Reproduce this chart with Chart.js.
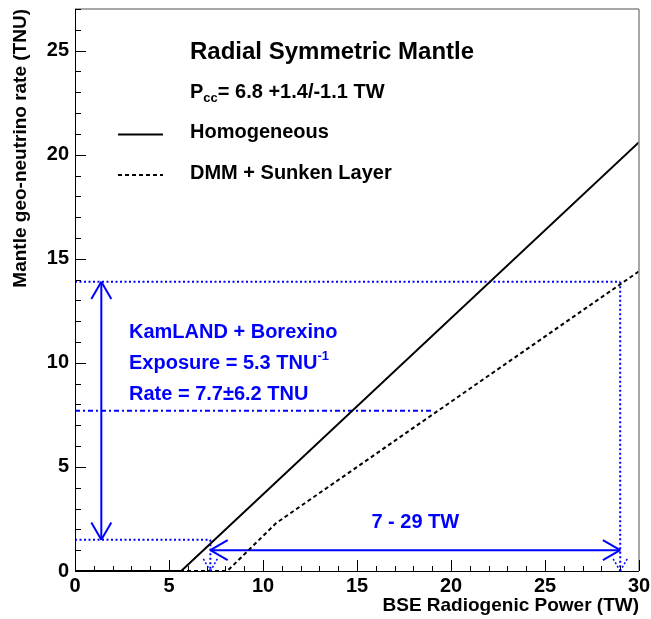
<!DOCTYPE html>
<html>
<head>
<meta charset="utf-8">
<script src="https://cdn.jsdelivr.net/npm/chart.js@4.4.1/dist/chart.umd.min.js"></script>
<style>
  html, body { margin: 0; padding: 0; background: #fff; }
  #wrap { width: 651px; height: 619px; }
</style>
</head>
<body>
<div id="wrap"><canvas id="rateChart"></canvas></div>
<script>
// model curves: mantle rate vs BSE radiogenic power
const homogeneousX = [0, 5.65, 30];
const homogeneousY = [0, 0, 20.6];
const sunkenX = [0, 8.1, 10.7, 30];
const sunkenY = [0, 0, 2.3, 14.4];

// KamLAND + Borexino measurement
const rateCentral = 7.7;
const rateUpper = 13.9;
const rateLower = 1.5;
const powerLow = 7.2;
const powerHigh = 29;
const rateLineEnd = 19.1;     // where the central rate meets the sunken-layer curve
const rateArrowX = 1.4;
const powerArrowY = 1.0;

const xTickValues = [0, 5, 10, 15, 20, 25, 30];
const yTickValues = [0, 5, 10, 15, 20, 25];
const xMinorStep = 1;
const yMinorStep = 1;

const BLUE = '#0000ff';
const FONT = "'Liberation Sans', Arial, Helvetica, sans-serif";

function pts(xs, ys) {
  return xs.map((v, i) => ({ x: v, y: ys[i] }));
}

function lineSet(data, color, width, dash) {
  return {
    data: data,
    showLine: true,
    borderColor: color,
    backgroundColor: color,
    borderWidth: width,
    borderDash: dash || [],
    pointRadius: 0,
    fill: false,
    tension: 0,
  };
}

const datasets = [
  lineSet(pts(homogeneousX, homogeneousY), '#000', 2),
  lineSet(pts(sunkenX, sunkenY), '#000', 2, [4, 3]),
  // dotted band edges
  lineSet([{ x: 0, y: rateUpper }, { x: powerHigh, y: rateUpper }], BLUE, 2, [2, 2.5]),
  lineSet([{ x: 0, y: rateLower }, { x: powerLow, y: rateLower }], BLUE, 2, [2, 2.5]),
  lineSet([{ x: powerHigh, y: rateUpper }, { x: powerHigh, y: 0 }], BLUE, 2, [2, 2.5]),
  lineSet([{ x: powerLow, y: rateLower }, { x: powerLow, y: 0 }], BLUE, 2, [2, 2.5]),
  // central rate, dash-dot
  lineSet([{ x: 0, y: rateCentral }, { x: rateLineEnd, y: rateCentral }], BLUE, 2, [5, 3, 2, 3]),
  // arrows
  lineSet([{ x: rateArrowX, y: rateLower }, { x: rateArrowX, y: rateUpper }], BLUE, 2),
  lineSet([{ x: powerLow, y: powerArrowY }, { x: powerHigh, y: powerArrowY }], BLUE, 2),
];

function seg(ctx, x1, y1, x2, y2) {
  ctx.beginPath();
  ctx.moveTo(x1, y1);
  ctx.lineTo(x2, y2);
  ctx.stroke();
}

// open "V" arrow head, (dx,dy) is the pointing direction
function head(ctx, tx, ty, dx, dy, len, ang) {
  const back = Math.atan2(-dy, -dx);
  seg(ctx, tx, ty, tx + len * Math.cos(back + ang), ty + len * Math.sin(back + ang));
  seg(ctx, tx, ty, tx + len * Math.cos(back - ang), ty + len * Math.sin(back - ang));
}

function text(ctx, str, x, y, size, color, align) {
  ctx.font = `bold ${size}px ${FONT}`;
  ctx.fillStyle = color;
  ctx.textAlign = align || 'left';
  ctx.textBaseline = 'middle';
  ctx.fillText(str, x, y);
  return ctx.measureText(str).width;
}

const framePlugin = {
  id: 'frameAndNotes',
  afterDatasetsDraw(chart) {
    const { ctx, chartArea: a, scales: { x, y } } = chart;
    ctx.save();

    // frame: ROOT style, grey top/right
    ctx.setLineDash([]);
    ctx.strokeStyle = '#8a8a8a';
    ctx.lineWidth = 1.5;
    seg(ctx, a.left, a.top, a.right, a.top);
    seg(ctx, a.right, a.top, a.right, a.bottom);
    ctx.strokeStyle = '#000';
    ctx.lineWidth = 1;
    seg(ctx, a.left + 0.5, a.top, a.left + 0.5, a.bottom);
    seg(ctx, a.left, a.bottom + 0.5, a.right, a.bottom + 0.5);

    // ticks inside the frame
    for (let v = x.min; v <= x.max; v += xMinorStep) {
      const px = Math.round(x.getPixelForValue(v)) + 0.5;
      const len = xTickValues.includes(v) ? 11 : 5;
      seg(ctx, px, a.bottom, px, a.bottom - len);
    }
    for (let v = y.min; v <= y.max; v += yMinorStep) {
      const py = Math.round(y.getPixelForValue(v)) + 0.5;
      const len = yTickValues.includes(v) ? 11 : 6;
      seg(ctx, a.left, py, a.left + len, py);
    }

    // arrow heads
    ctx.strokeStyle = BLUE;
    ctx.lineWidth = 2;
    const ax = x.getPixelForValue(rateArrowX);
    head(ctx, ax, y.getPixelForValue(rateUpper), 0, -1, 20, Math.PI / 6);
    head(ctx, ax, y.getPixelForValue(rateLower), 0, 1, 20, Math.PI / 6);
    const ay = y.getPixelForValue(powerArrowY);
    head(ctx, x.getPixelForValue(powerLow), ay, -1, 0, 20, Math.PI / 6);
    head(ctx, x.getPixelForValue(powerHigh), ay, 1, 0, 20, Math.PI / 6);
    ctx.lineWidth = 1.5;
    ctx.setLineDash([2, 2]);
    head(ctx, x.getPixelForValue(powerLow), a.bottom, 0, 1, 15, Math.PI / 6);
    head(ctx, x.getPixelForValue(powerHigh), a.bottom, 0, 1, 15, Math.PI / 6);
    ctx.setLineDash([]);

    // title + legend
    text(ctx, 'Radial Symmetric Mantle', 190, 52, 24, '#000');
    let w = text(ctx, 'P', 190, 92, 20, '#000');
    const sw = text(ctx, 'cc', 190 + w, 98, 13, '#000');
    text(ctx, '= 6.8 +1.4/-1.1 TW', 190 + w + sw, 92, 20, '#000');

    ctx.strokeStyle = '#000';
    ctx.lineWidth = 2;
    seg(ctx, 118, 134.5, 163, 134.5);
    ctx.setLineDash([4, 3]);
    seg(ctx, 118, 175, 163, 175);
    ctx.setLineDash([]);
    text(ctx, 'Homogeneous', 190, 132, 20, '#000');
    text(ctx, 'DMM + Sunken Layer', 190, 173, 20, '#000');

    // measurement box
    text(ctx, 'KamLAND + Borexino', 129, 332, 20, BLUE);
    w = text(ctx, 'Exposure = 5.3 TNU', 129, 363, 20, BLUE);
    text(ctx, '-1', 129 + w, 356, 13, BLUE);
    text(ctx, 'Rate = 7.7\u00b16.2 TNU', 129, 394, 20, BLUE);
    text(ctx, '7 - 29 TW', (x.getPixelForValue(powerLow) + x.getPixelForValue(powerHigh)) / 2, 522, 20, BLUE, 'center');

    ctx.restore();
  }
};

const tickFont = { family: FONT, size: 20, weight: 'bold' };
const titleFont = { family: FONT, size: 19, weight: 'bold' };

new Chart(document.getElementById('rateChart'), {
  type: 'scatter',
  data: { datasets: datasets },
  options: {
    responsive: true,
    maintainAspectRatio: false,
    animation: false,
    layout: { padding: { top: 9, right: 12, left: 0, bottom: 0 } },
    plugins: { legend: { display: false }, tooltip: { enabled: false } },
    scales: {
      x: {
        type: 'linear',
        min: 0,
        max: 30,
        afterBuildTicks(scale) { scale.ticks = xTickValues.map(v => ({ value: v })); },
        afterFit(scale) {
          scale.height = 48;
          scale.paddingLeft = 0;
          scale.paddingRight = 0;
        },
        grid: { display: false, drawTicks: false },
        border: { display: false },
        ticks: { color: '#000', font: tickFont, padding: 3, maxRotation: 0, autoSkip: false },
        title: {
          display: true, text: 'BSE Radiogenic Power (TW)', align: 'end', color: '#000',
          font: titleFont, padding: { top: 0, bottom: 2 },
        },
      },
      y: {
        type: 'linear',
        min: 0,
        max: 27,
        afterBuildTicks(scale) { scale.ticks = yTickValues.map(v => ({ value: v })); },
        afterFit(scale) {
          scale.width = 75;
          scale.paddingTop = 0;
          scale.paddingBottom = 0;
        },
        grid: { display: false, drawTicks: false },
        border: { display: false },
        ticks: { color: '#000', font: tickFont, padding: 6, autoSkip: false },
        title: {
          display: true, text: 'Mantle geo-neutrino rate (TNU)', align: 'end', color: '#000',
          font: titleFont, padding: { top: 9, bottom: 0 },
        },
      },
    },
  },
  plugins: [framePlugin],
});
</script>
</body>
</html>
